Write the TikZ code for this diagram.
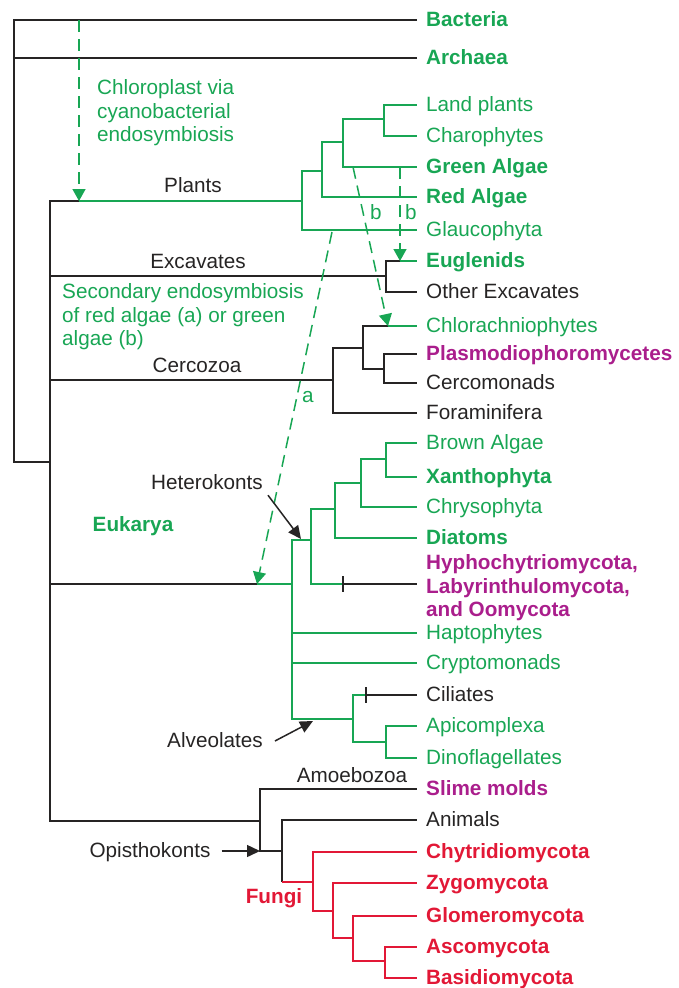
\documentclass[tikz,border=0pt]{standalone}
\usepackage{fontspec}
\setmainfont{Liberation Sans}
\usepackage{xcolor}
\definecolor{plantgreen}{RGB}{24,166,84}
\definecolor{moldpurple}{RGB}{170,30,140}
\definecolor{fungired}{RGB}{226,24,54}
\definecolor{inkgray}{RGB}{38,36,36}
\usetikzlibrary{arrows.meta, calc}
\newcommand{\fs}{\fontsize{20.7}{23.5}\selectfont}

\begin{document}
\begin{tikzpicture}[
  x=1pt, y=-1pt,
  every node/.style={font=\fs, inner sep=0pt},
  leaf/.style={anchor=west, inner xsep=9pt, text height=14pt, text depth=2pt},
  gleaf/.style={leaf, text=plantgreen},
  gbold/.style={gleaf, font=\fs\bfseries},
  pbold/.style={leaf, text=moldpurple, font=\fs\bfseries},
  rbold/.style={leaf, text=fungired, font=\fs\bfseries},
  kleaf/.style={leaf, text=inkgray},
  lbl/.style={text=inkgray, text height=14pt, text depth=2pt},
  glbl/.style={text=plantgreen, align=left, anchor=west},
  blk/.style={draw=inkgray, line width=1.3pt},
  bthick/.style={draw=inkgray, line width=2.8pt},
  gline/.style={draw=plantgreen, line width=1.3pt},
  gthick/.style={draw=plantgreen, line width=2.6pt},
  rline/.style={draw=fungired, line width=1.3pt},
  gdash/.style={draw=plantgreen, line width=1.5pt, dash pattern=on 12pt off 7pt,
                -{Triangle[length=12pt, width=13pt]}},
  callout/.style={draw=inkgray, line width=1.5pt, -{Triangle[length=13pt, width=12pt]}}
]
\useasboundingbox (0,0) rectangle (678,988);

% Leaves
\node[gbold] (bac) at (417,20) {Bacteria};
\node[gbold] (arc) at (417,58) {Archaea};
\node[gleaf] (land) at (417,105) {Land plants};
\node[gleaf] (charo) at (417,136) {Charophytes};
\node[gbold] (green) at (417,167) {Green Algae};
\node[gbold] (red) at (417,197) {Red Algae};
\node[gleaf] (glauco) at (417,230) {Glaucophyta};
\node[gbold] (eugl) at (417,261) {Euglenids};
\node[kleaf] (oexc) at (417,292) {Other Excavates};
\node[gleaf] (chlor) at (417,326) {Chlorachniophytes};
\node[pbold] (plasmo) at (417,354) {Plasmodiophoromycetes};
\node[kleaf] (cercom) at (417,383) {Cercomonads};
\node[kleaf] (foram) at (417,413) {Foraminifera};
\node[gleaf] (brown) at (417,443) {Brown Algae};
\node[gbold] (xantho) at (417,477) {Xanthophyta};
\node[gleaf] (chryso) at (417,507) {Chrysophyta};
\node[gbold] (diat) at (417,538) {Diatoms};
\node[anchor=west, inner xsep=9pt, align=left, text=moldpurple, font=\fs\bfseries]
  (hypho) at (417,588) {Hyphochytriomycota,\\Labyrinthulomycota,\\and Oomycota};
\node[gleaf] (hapto) at (417,633) {Haptophytes};
\node[gleaf] (crypto) at (417,663) {Cryptomonads};
\node[kleaf] (cili) at (417,695) {Ciliates};
\node[gleaf] (apic) at (417,726) {Apicomplexa};
\node[gleaf] (dino) at (417,758) {Dinoflagellates};
\node[pbold] (slime) at (417,789) {Slime molds};
\node[kleaf] (anim) at (417,820) {Animals};
\node[rbold] (chytr) at (417,852) {Chytridiomycota};
\node[rbold] (zygo) at (417,883) {Zygomycota};
\node[rbold] (glom) at (417,916) {Glomeromycota};
\node[rbold] (asco) at (417,947) {Ascomycota};
\node[rbold] (basid) at (417,978) {Basidiomycota};

% Branch points
\coordinate (root) at (14,462);
\coordinate (euk) at (50,462);
\coordinate (eukTop) at (50,201);
\coordinate (eukBot) at (50,821);
\coordinate (chl) at (79,201);
\coordinate (pl0) at (302,201);
\coordinate (pl1) at (322,171);
\coordinate (pl2) at (343,142);
\coordinate (pl3) at (384,119);
\coordinate (ex0) at (386,276);
\coordinate (eugArr) at (400,261);
\coordinate (ce0) at (333,380);
\coordinate (ce1) at (363,348);
\coordinate (ce2) at (384,369);
\coordinate (chlArr) at (388,326);
\coordinate (ch0) at (292,584);
\coordinate (chArr) at (257,584);
\coordinate (het0) at (311,540);
\coordinate (het1) at (335,509);
\coordinate (het2) at (361,483);
\coordinate (het3) at (386,459);
\coordinate (hyTick) at (343,584);
\coordinate (alv0) at (353,719);
\coordinate (alv1) at (386,742);
\coordinate (ciTick) at (366,695);
\coordinate (un0) at (260,821);
\coordinate (op0) at (282,851);
\coordinate (fuS) at (282,882);
\coordinate (fu0) at (313,882);
\coordinate (fu1) at (333,911);
\coordinate (fu2) at (353,938);
\coordinate (fu3) at (385,961);
\coordinate (bStart) at (353,167);
\coordinate (aStart) at (332,232);

% Root and backbone
\draw[blk] (bac.west) -| (root) -- (euk);
\draw[blk] (arc.west) -- (arc.west -| root);
\draw[blk] (eukTop |- ex0) -- (ex0);
\draw[blk] (eukTop |- ce0) -- (ce0);
\draw[blk] (eukTop |- ch0) -- (chArr);
\draw[bthick] (chl) -- (eukTop) -- (eukBot) -- (un0);

% Plants
\draw[gthick] (chl) -- (pl0);
\draw[gthick] (pl0) |- (glauco.west);
\draw[gthick] (pl0) |- (pl1);
\draw[gthick] (pl1) |- (red.west);
\draw[gthick] (pl1) |- (pl2);
\draw[gthick] (pl2) |- (green.west);
\draw[gthick] (pl2) |- (pl3);
\draw[gthick] (pl3) |- (land.west);
\draw[gthick] (pl3) |- (charo.west);

% Excavates
\draw[blk] (ex0) |- (oexc.west);
\draw[blk] (ex0) |- (eugArr);
\draw[gthick] (eugArr) -- (eugl.west);

% Cercozoa
\draw[blk] (ce0) |- (foram.west);
\draw[blk] (ce0) |- (ce1);
\draw[blk] (ce1) |- (chlArr);
\draw[gline] (chlArr) -- (chlor.west);
\draw[blk] (ce1) |- (ce2);
\draw[blk] (ce2) |- (plasmo.west);
\draw[blk] (ce2) |- (cercom.west);

% Heterokonts and alveolates
\draw[gline] (chArr) -- (ch0);
\draw[gline] (ch0) |- (het0);
\draw[gline] (ch0) |- (hapto.west);
\draw[gline] (ch0) |- (crypto.west);
\draw[gline] (ch0) |- (alv0);
\draw[gline] (het0) |- (het1);
\draw[gline] (het0) |- (hyTick);
\draw[blk] (hyTick) -- (hypho.west |- hyTick);
\draw[blk] (hyTick) ++(0,-8) -- ++(0,16);
\draw[gline] (het1) |- (het2);
\draw[gline] (het1) |- (diat.west);
\draw[gline] (het2) |- (het3);
\draw[gline] (het2) |- (chryso.west);
\draw[gline] (het3) |- (brown.west);
\draw[gline] (het3) |- (xantho.west);
\draw[gline] (alv0) |- (ciTick);
\draw[blk] (ciTick) -- (cili.west);
\draw[blk] (ciTick) ++(0,-8) -- ++(0,16);
\draw[gline] (alv0) |- (alv1);
\draw[gline] (alv1) |- (apic.west);
\draw[gline] (alv1) |- (dino.west);

% Amoebozoa and opisthokonts
\draw[blk] (un0) |- (slime.west);
\draw[blk] (un0) |- (op0);
\draw[blk] (op0) |- (anim.west);
\draw[blk] (op0) -- (fuS);
\draw[rline] (fuS) -- (fu0);
\draw[rline] (fu0) |- (chytr.west);
\draw[rline] (fu0) |- (fu1);
\draw[rline] (fu1) |- (zygo.west);
\draw[rline] (fu1) |- (fu2);
\draw[rline] (fu2) |- (glom.west);
\draw[rline] (fu2) |- (fu3);
\draw[rline] (fu3) |- (asco.west);
\draw[rline] (fu3) |- (basid.west);

% Endosymbiosis arrows
\draw[gdash] (bac.west -| chl) -- (chl);
\draw[gdash] (green.west -| eugArr) -- (eugArr);
\draw[gdash] (bStart) -- (chlArr);
\draw[gdash] (aStart) -- (chArr);

% Labels
\node[lbl] (plantsLbl) at (193,186) {Plants};
\node[lbl] (excLbl) at (198,262) {Excavates};
\node[lbl] (cerLbl) at (197,366) {Cercozoa};
\node[lbl] (amoLbl) at (352,776) {Amoebozoa};
\node[lbl] (hetLbl) at (207,483) {Heterokonts};
\node[lbl] (alvLbl) at (215,741) {Alveolates};
\node[lbl] (opiLbl) at (150,851) {Opisthokonts};
\node[lbl, text=plantgreen, font=\fs\bfseries] (eukLbl) at (133,525) {Eukarya};
\node[lbl, text=fungired, font=\fs\bfseries] (fungiLbl) at (274,897) {Fungi};
\node[glbl] (chlLbl) at (97,113) {Chloroplast via\\cyanobacterial\\endosymbiosis};
\node[glbl] (secLbl) at (62,317) {Secondary endosymbiosis\\of red algae (a) or green\\algae (b)};
\node[lbl, text=plantgreen] (bLblA) at (411,213) {b};
\node[lbl, text=plantgreen] (bLblB) at (376,213) {b};
\node[lbl, text=plantgreen] (aLbl) at (308,396) {a};

% Callout arrows
\draw[callout] ([shift={(5,4)}]hetLbl.south east) -- (301,539);
\draw[callout] ([xshift=12pt]alvLbl.east) -- (313,721);
\draw[callout] ([xshift=11pt]opiLbl.east) -- (un0 |- opiLbl.east);

\end{tikzpicture}
\end{document}
